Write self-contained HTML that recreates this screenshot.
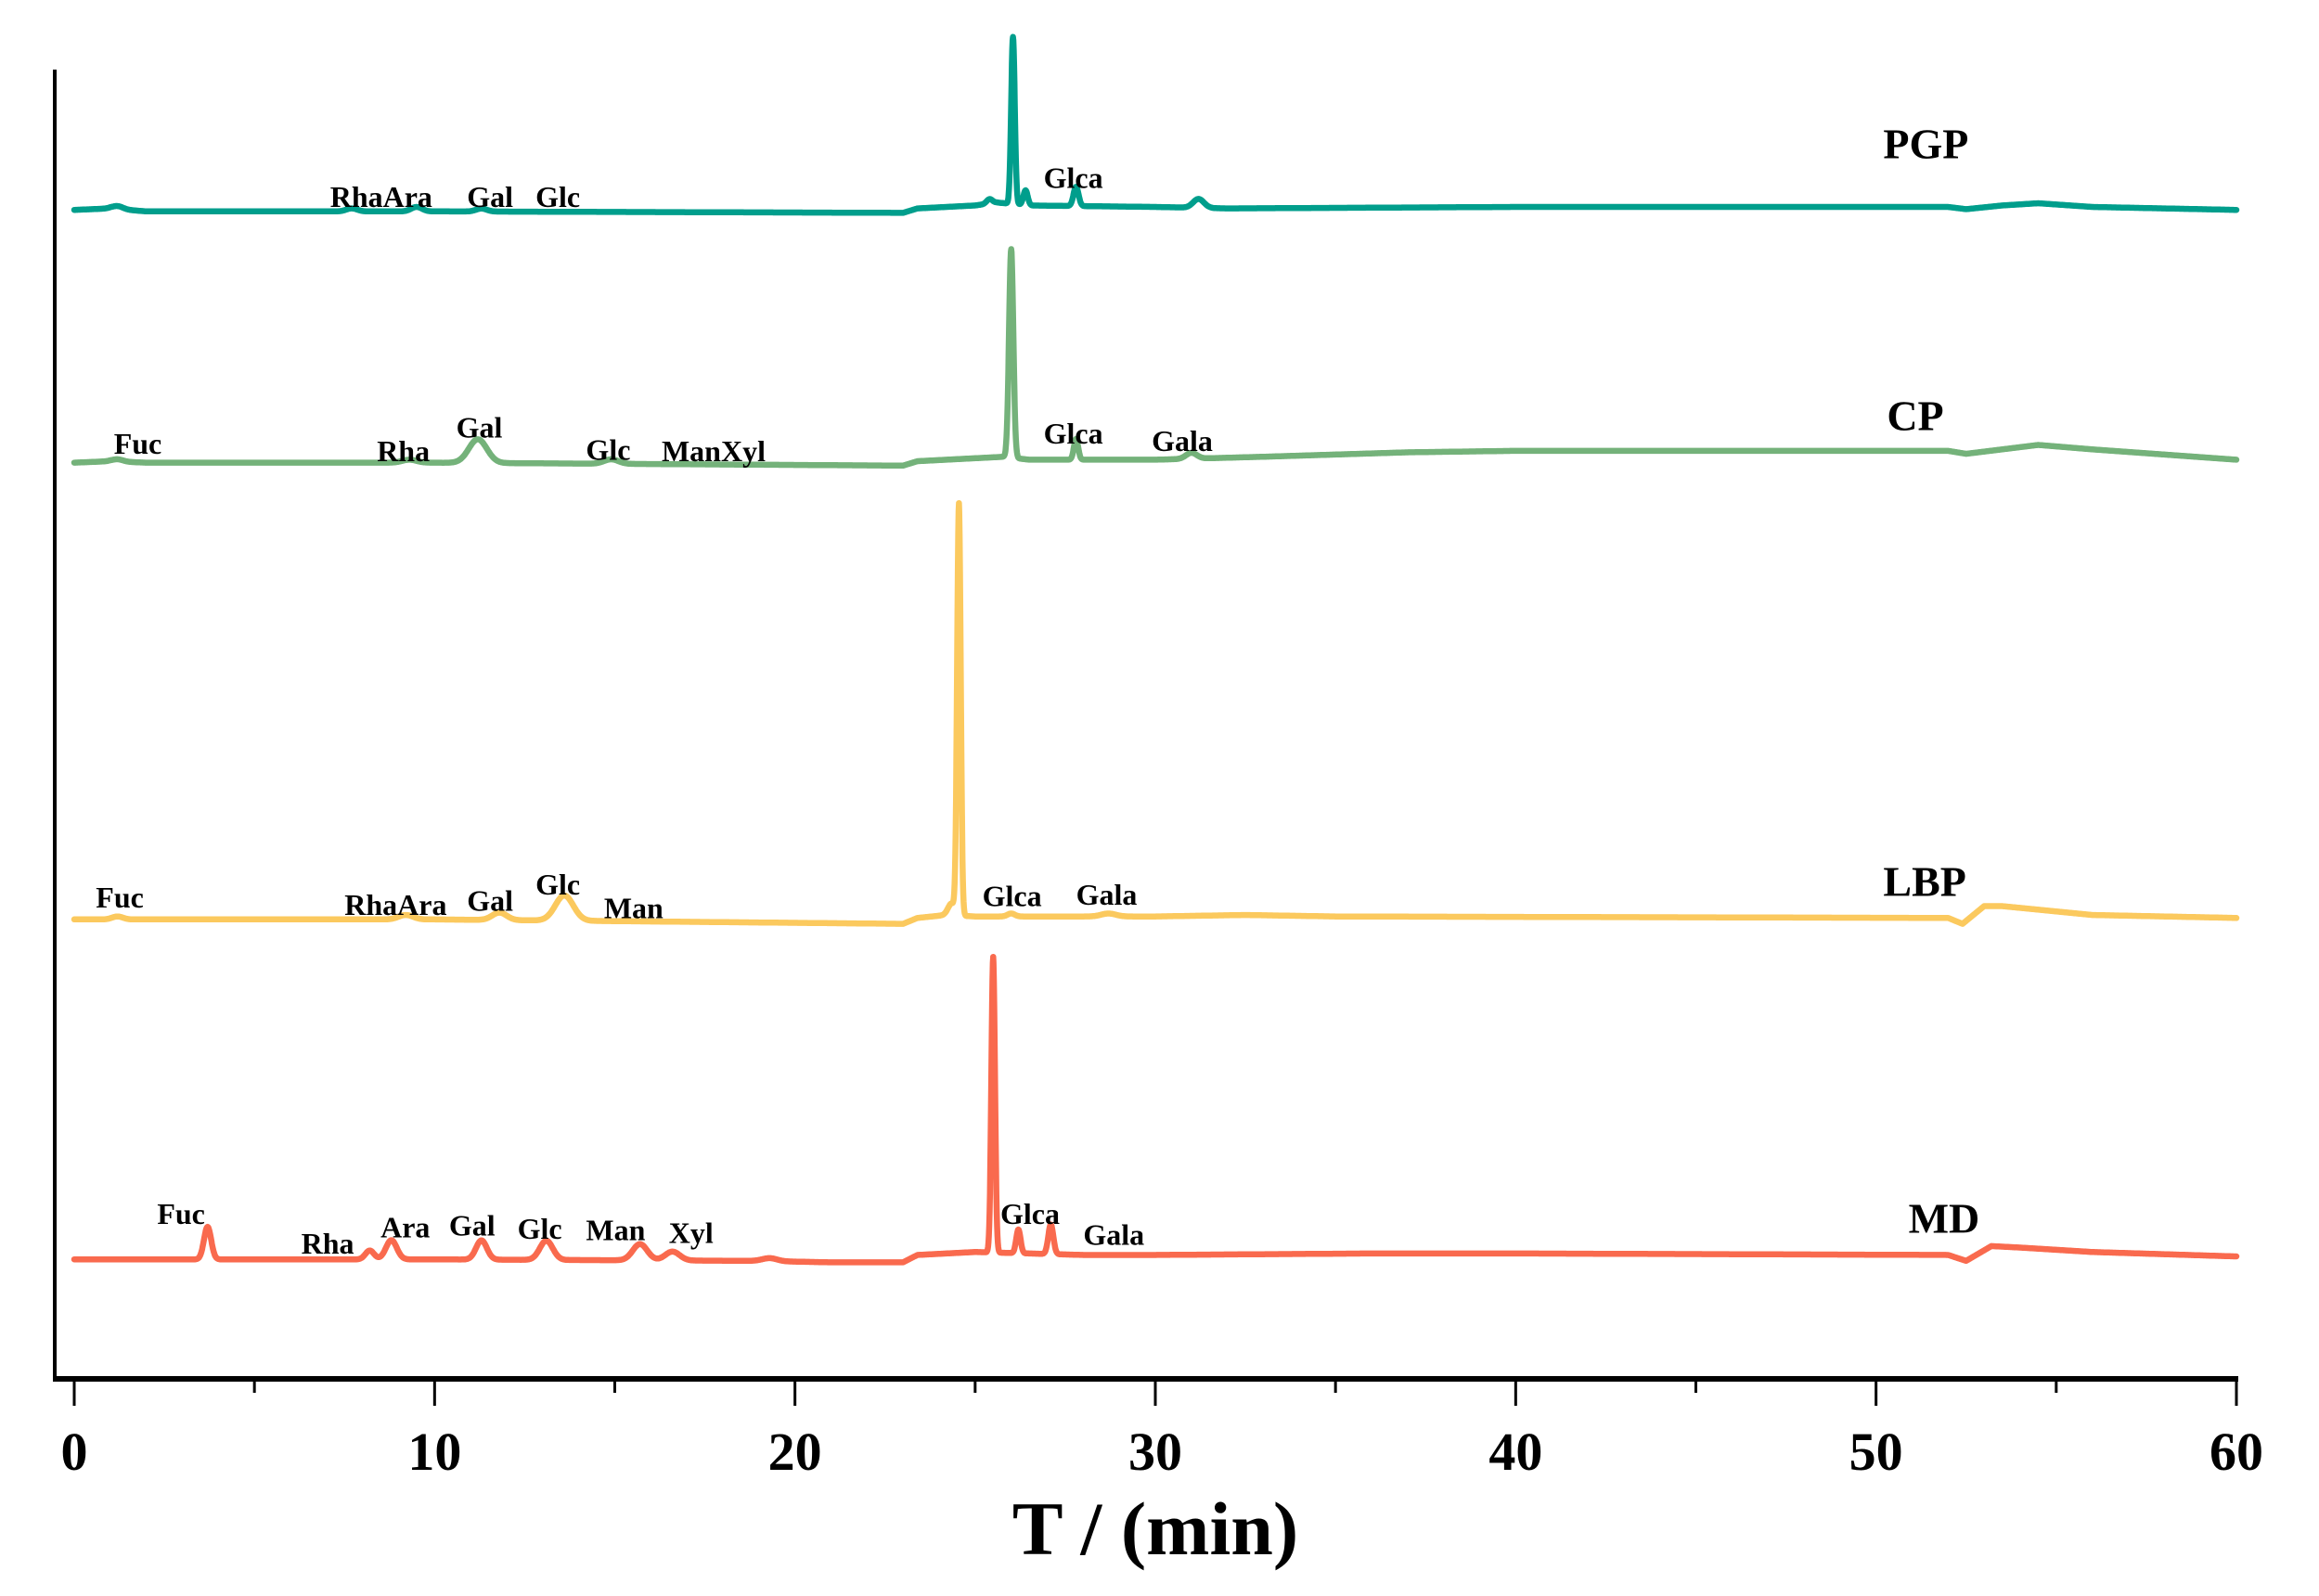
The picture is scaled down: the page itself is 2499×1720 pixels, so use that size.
<!DOCTYPE html>
<html><head><meta charset="utf-8"><style>
html,body{margin:0;padding:0;background:#fff;}
svg{display:block;}
text{font-family:"Liberation Serif",serif;font-weight:bold;fill:#000;}
</style></head><body>
<svg id="chart" width="2499" height="1720" viewBox="0 0 2499 1720">
<g id="axes"></g>
<g id="traces"></g>
<g id="labels"></g>
</svg>
<script>
// x axis ticks
const xTicks = [0,10,20,30,40,50,60];
const xMinor = [5,15,25,35,45,55];
// series names and colors
const seriesNames = ["PGP","CP","LBP","MD"];
const seriesColors = ["#009e8c","#74b27a","#fbc95e","#f96a4e"];
// vertical offsets (signal units) of each trace
const seriesOffsets = [143,313,622,852];
// baselines: [time, signal]
const basePGP = [[0,1],[1,2],[2,0],[10,0],[23,-1],[23.4,2],[25,4],[25.6,6],[26.5,4],[30,3],[32,2],[36,2.5],[40,3],[52,3],[52.5,1.5],[53.5,4],[54.5,5.5],[56,3],[60,1]];
const baseCP  = [[0,0],[1,1],[2,0],[10,0],[23,-2],[23.4,1],[25,3],[25.8,4],[26.5,2],[30,2],[33,4],[37,7],[40,8],[52,8],[52.5,6],[54.5,12],[56,9],[60,2]];
const baseLBP = [[0,0],[10,0],[23,-3],[23.4,1],[24.2,3],[25,2],[30,2],[32.5,3],[35,2],[52,1],[52.4,-3],[53,9],[53.5,9],[56,3],[60,1]];
const baseMD  = [[0,0],[10,0],[19,-1],[21,-2],[23,-2],[23.4,3],[25,5],[26.5,4],[28,3],[30,3],[36,4],[40,4],[52,3],[52.5,-1],[53.2,9],[54,8],[56,5],[60,2]];
// peaks: [time, height, sigma]
const peaksPGP = [[1.2,2,0.15],[7.7,2,0.15],[9.5,3,0.15],[11.3,2,0.15],[25.4,3,0.08],[26.05,113,0.05],[26.4,10,0.06],[27.8,13,0.07],[31.2,6,0.15]];
const peaksCP  = [[1.2,1.5,0.15],[9.3,2,0.2],[11.2,16,0.25],[14.9,3,0.2],[26.0,141,0.06],[27.8,14,0.06],[31.0,4,0.15]];
const peaksLBP = [[1.2,2,0.15],[9.2,3,0.2],[11.8,5,0.2],[13.6,17,0.25],[24.35,8,0.1],[24.55,278,0.05],[26.0,2,0.1],[28.7,2,0.2]];
const peaksMD  = [[3.7,22,0.1],[8.2,6,0.12],[8.8,13,0.15],[11.3,13,0.15],[13.1,13,0.18],[15.7,11,0.2],[16.6,6,0.2],[19.3,2,0.2],[25.5,200,0.05],[26.2,16,0.06],[27.1,20,0.07]];
const baselines = [basePGP,baseCP,baseLBP,baseMD];
const peaks = [peaksPGP,peaksCP,peaksLBP,peaksMD];
// peak annotations: [text, time, signal-level above offset]
const annPGP = [["RhaAra",7.1,3],["Gal",10.9,3],["Glc",12.8,3],["Glca",26.9,16],["PGP",50.2,36]];
const annCP  = [["Fuc",1.1,6],["Rha",8.4,1],["Gal",10.6,17],["Glc",14.2,2],["ManXyl",16.3,1],["Glca",26.9,13],["Gala",29.9,8],["CP",50.3,22]];
const annLBP = [["Fuc",0.6,8],["RhaAra",7.5,3],["Gal",10.9,6],["Glc",12.8,17],["Man",14.7,1],["Glca",25.2,9],["Gala",27.8,10],["LBP",50.2,16]];
const annMD  = [["Fuc",2.3,24],["Rha",6.3,4],["Ara",8.5,15],["Gal",10.4,16],["Glc",12.3,14],["Man",14.2,13],["Xyl",16.5,11],["Glca",25.7,24],["Gala",28.0,10],["MD",50.9,18]];
const annotations = [annPGP,annCP,annLBP,annMD];

const S = 1.593;
const X = t => 80 + t*(2410-80)/60;
const Y = v => v*S;
const NS = "http://www.w3.org/2000/svg";
function mk(tag, attrs, parent){const e=document.createElementNS(NS,tag);for(const k in attrs)e.setAttribute(k,attrs[k]);parent.appendChild(e);return e;}
const axes=document.getElementById('axes'), traces=document.getElementById('traces'), labels=document.getElementById('labels');

let e = mk('line',{x1:59,y1:75,x2:59,y2:1488,stroke:'#000','stroke-width':4},axes);


e = mk('line',{x1:57,y1:1486,x2:2412,y2:1486,stroke:'#000','stroke-width':6},axes);


xTicks.forEach(t=>{
  const l=mk('line',{x1:X(t),y1:1486,x2:X(t),y2:1515,stroke:'#000','stroke-width':3},axes);
  
  
  const tx=mk('text',{x:X(t),y:1584,'text-anchor':'middle','font-size':58},axes);
  tx.textContent=t;
  
  
});
xMinor.forEach(t=>{
  const l=mk('line',{x1:X(t),y1:1486,x2:X(t),y2:1501,stroke:'#000','stroke-width':3},axes);
  
  
});
e = mk('text',{x:1245,y:1675,'text-anchor':'middle','font-size':82},axes);
e.textContent='T / (min)';



function baseAt(b,t){for(let i=0;i<b.length-1;i++){if(t>=b[i][0]&&t<=b[i+1][0]){const f=(t-b[i][0])/(b[i+1][0]-b[i][0]);return b[i][1]+f*(b[i+1][1]-b[i][1]);}}return b[b.length-1][1];}
seriesNames.forEach((name,i)=>{
  let d='';
  for(let k=0;k<=6000;k++){
    const t=k*0.01;
    let v=baseAt(baselines[i],t);
    peaks[i].forEach(p=>{v+=p[1]*Math.exp(-((t-p[0])**2)/(2*p[2]*p[2]));});
    d+=(k?'L':'M')+X(t).toFixed(1)+' '+Y(seriesOffsets[i]-v).toFixed(1);
  }
  const p=mk('path',{d:d,fill:'none',stroke:seriesColors[i],'stroke-width':6.5,'stroke-linejoin':'round','stroke-linecap':'round'},traces);
  
  
  annotations[i].forEach(a=>{
    const isName = a[0]===name;
    const tx=mk('text',{x:X(a[1]),y:Y(seriesOffsets[i]-a[2]),'font-size':isName?46:32},labels);
    tx.textContent=a[0];
    
    
  });
});
</script>
</body></html>
